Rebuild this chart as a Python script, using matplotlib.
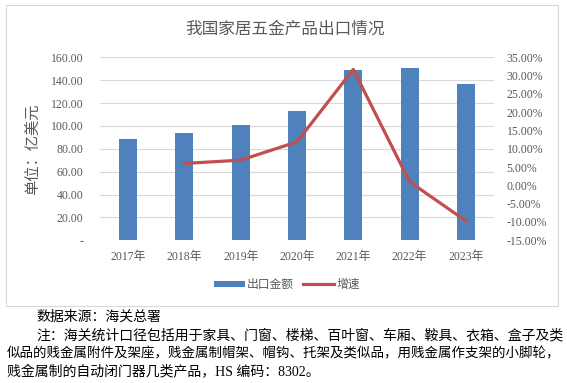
import numpy as np
import matplotlib
matplotlib.use('Agg')
import matplotlib.pyplot as plt
from matplotlib.patches import Rectangle, Patch
from matplotlib.lines import Line2D

# data
years = ['2017年', '2018年', '2019年', '2020年', '2021年', '2022年', '2023年']
export_value = [88.6, 94.0, 100.6, 113.2, 149.2, 150.9, 136.5]   # 亿美元
growth = [np.nan, 6.0, 6.9, 11.9, 31.7, 1.0, -9.7]                # %

fam = ['Liberation Serif', 'Noto Sans CJK SC']
plt.rcParams['font.family'] = fam
grey = '#595959'

fig = plt.figure(figsize=(5.67, 3.83), dpi=100)

# chart frame
fig.patches.append(Rectangle((6 / 567, 1 - 306 / 383), 552 / 567, 301 / 383,
                             transform=fig.transFigure, fill=False,
                             edgecolor='#D9D9D9', linewidth=0.8))

ax = fig.add_axes([100 / 567, 1 - 240.3 / 383, 394 / 567, 183 / 383])
x = np.arange(len(years))
ax.bar(x, export_value, width=0.32, color='#4F81BD', zorder=2)
ax.set_ylim(0, 160)
ax.set_xlim(-0.5, len(years) - 0.5)
ax.set_yticks(np.arange(0, 161, 20))
ax.set_yticklabels(['-' if v == 0 else '%.2f' % v for v in np.arange(0, 161, 20)])
ax.set_xticks(x)
ax.set_xticklabels(years)
ax.grid(axis='y', color='#D9D9D9', linewidth=0.8, zorder=0)
ax.tick_params(length=0, labelsize=8.5, colors=grey)
ax.tick_params(axis='y', pad=12)
ax.tick_params(axis='x', pad=8)
for s in ax.spines.values():
    s.set_visible(False)

ax2 = ax.twinx()
ax2.plot(x, growth, color='#C0504D', linewidth=2.3, zorder=3)
ax2.set_ylim(-15, 35)
ax2.set_yticks(np.arange(-15, 36, 5))
ax2.set_yticklabels(['%.2f%%' % v for v in np.arange(-15, 36, 5)])
ax2.tick_params(length=0, labelsize=8.5, colors=grey, pad=9)
for s in ax2.spines.values():
    s.set_visible(False)

fig.text(285 / 567, 1 - 30 / 383, '我国家居五金产品出口情况', ha='center', va='center',
         fontsize=12, color=grey, family=fam)
fig.text(33 / 567, 1 - 149 / 383, '单位：亿美元', rotation=90, ha='center', va='center',
         fontsize=11, color=grey, family=fam)

handles = [Patch(facecolor='#4F81BD'), Line2D([], [], color='#C0504D', linewidth=2.3)]
fig.legend(handles, ['出口金额', '增速'], loc='center', bbox_to_anchor=(287 / 567, 1 - 285 / 383),
           ncol=2, frameon=False, fontsize=8.5, labelcolor=grey, handlelength=2.6,
           handleheight=0.45, handletextpad=0.2, columnspacing=0.8)

notes = [
    (36, 317, '数据来源：海关总署', 10),
    (36, 336, '注：海关统计口径包括用于家具、门窗、楼梯、百叶窗、车厢、鞍具、衣箱、盒子及类', 10),
    (7, 354, '似品的贱金属附件及架座，贱金属制帽架、帽钩、托架及类似品，用贱金属作支架的小脚轮，', 9.7),
    (7, 372, '贱金属制的自动闭门器几类产品，HS 编码：8302。', 10),
]
for nx, ny, txt, fs in notes:
    fig.text(nx / 567, 1 - ny / 383, txt, ha='left', va='center', fontsize=fs,
             color='black', family=fam)

fig.savefig('out.png', dpi=100)
